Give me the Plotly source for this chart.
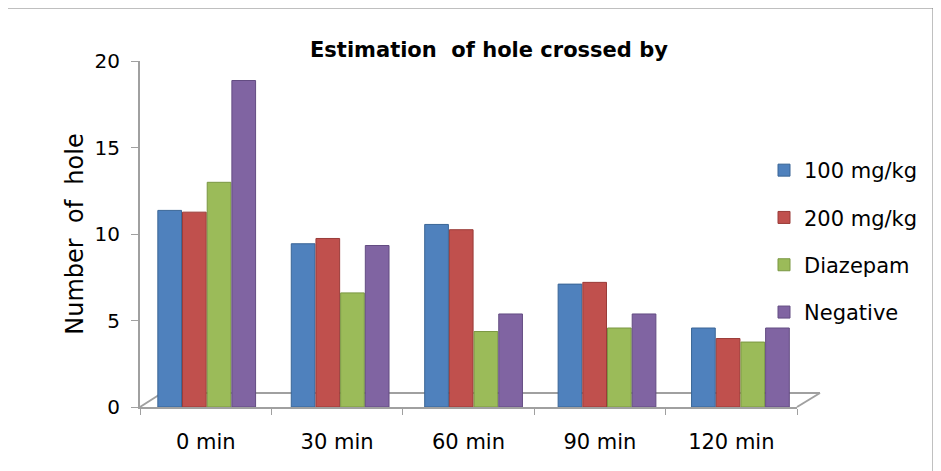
import plotly.graph_objects as go

categories = ["0 min", "30 min", "60 min", "90 min", "120 min"]
series_names = ["100 mg/kg", "200 mg/kg", "Diazepam", "Negative"]
v100 = [11.2, 9.3, 10.4, 7.0, 4.5]
v200 = [11.1, 9.6, 10.1, 7.1, 3.9]
vdiaz = [12.8, 6.5, 4.3, 4.5, 3.7]
vneg = [18.6, 9.2, 5.3, 5.3, 4.5]
y_ticks = [0, 5, 10, 15, 20]
colors = ["#4F81BD", "#C0504D", "#9BBB59", "#8064A2"]
edge = ["#3A6596", "#9A3B38", "#7A9743", "#634C82"]

# the page body has an 8px margin; work in page pixels and convert
OFF = 8
W, H = 941 - OFF, 471 - OFF
PL, PR, PT, PB = 140, 797, 61, 407  # plot area in page pixels
L, R, T, B = PL - OFF, PR - OFF, PT - OFF, PB - OFF
font = "DejaVu Sans"

fig = go.Figure()
# invisible carrier so the category axis draws its labels
fig.add_trace(go.Scatter(x=categories, y=[0] * len(categories), mode="markers",
                         marker=dict(opacity=0), showlegend=False, hoverinfo="skip"))
for name, vals, c, e in zip(series_names, [v100, v200, vdiaz, vneg], colors, edge):
    fig.add_trace(go.Bar(
        x=categories, y=vals, name=name, xaxis="x2", yaxis="y2",
        marker=dict(color=c, line=dict(color=e, width=1)),
        legendgroup=name,
    ))

def px(xp):
    return (xp - PL) / (PR - PL)

def py(yp):
    return (PB - yp) / (PB - PT)

# depth offset of the bar plane (3-D look): right 10px, up 5px
xshift = 10 / (PR - PL)
yshift = 5 / (PB - PT)
fig.update_layout(
    width=W, height=H,
    margin=dict(l=L, r=W - R, t=T, b=H - B),
    paper_bgcolor="white", plot_bgcolor="white",
    barmode="group", bargap=0.26, bargroupgap=0.04,
    font=dict(family=font, color="black"),
    xaxis=dict(
        domain=[0, 1], type="category", categoryarray=categories,
        range=[-0.5, 4.5], showline=True, linecolor="#A0A0A0", linewidth=2,
        ticks="outside", tickson="boundaries", ticklen=6, tickcolor="#A0A0A0",
        tickfont=dict(size=21, family=font), ticklabelstandoff=15,
        showgrid=False, zeroline=False, automargin=False,
    ),
    xaxis2=dict(
        domain=[xshift, 1], overlaying="x", anchor="y2",
        type="category", categoryarray=categories, range=[-0.5, -0.5 + 5 * (1 - xshift)],
        visible=False,
    ),
    yaxis=dict(
        range=[0, 20], tickvals=y_ticks, showline=True, linecolor="#A0A0A0", linewidth=2,
        ticks="outside", ticklen=7, tickcolor="#A0A0A0", ticklabelstandoff=7,
        tickfont=dict(size=20, family=font), showgrid=False, zeroline=False,
        automargin=False,
        title=dict(text="Number  of  hole", font=dict(size=24, family=font), standoff=4),
    ),
    yaxis2=dict(
        domain=[yshift, 1], overlaying="y", anchor="x2",
        range=[0, 20 * (1 - yshift)], visible=False,
    ),
    legend=dict(
        x=px(764), y=py(150), xanchor="left", yanchor="top",
        font=dict(size=21, family=font), tracegroupgap=17, itemwidth=30,
        bgcolor="rgba(0,0,0,0)",
    ),
    showlegend=True,
)

fig.add_annotation(
    text="<b>Estimation  of hole crossed by</b>", xref="paper", yref="paper",
    x=px(489), y=py(50), xanchor="center", yanchor="middle",
    showarrow=False, font=dict(size=21, family=font),
)

# floor outline (decoration)
gray = "#A0A0A0"
fig.add_shape(type="line", xref="paper", yref="paper", x0=px(PL), y0=py(PB), x1=px(162), y1=py(393), line=dict(color=gray, width=2), layer="below")
fig.add_shape(type="line", xref="paper", yref="paper", x0=px(162), y0=py(393), x1=px(820), y1=py(393), line=dict(color=gray, width=2), layer="below")
fig.add_shape(type="line", xref="paper", yref="paper", x0=px(820), y0=py(393), x1=px(PR), y1=py(PB), line=dict(color=gray, width=2), layer="below")
# outer border
fig.add_shape(type="rect", xref="paper", yref="paper", x0=px(5), y0=py(480), x1=px(933), y1=py(8), line=dict(color="#808080", width=1), layer="below")

fig.write_html("out.html")
